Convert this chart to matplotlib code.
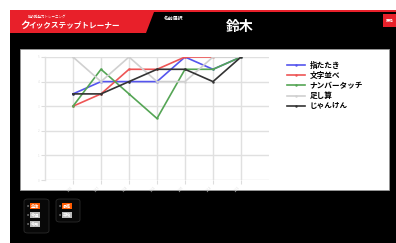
import matplotlib.pyplot as plt
from matplotlib.patches import Rectangle, Polygon, FancyBboxPatch

plt.rcParams['font.family'] = ['Noto Sans CJK JP', 'DejaVu Sans']

W, H = 396, 243

# datos
sesiones = ['1/10', '1/17', '1/24', '1/31', '2/07', '2/14', '2/21']
juegos = ['指たたき', '文字並べ', 'ナンバータッチ', '足し算', 'じゃんけん']
colores = ['#5555ee', '#ee5555', '#55a555', '#d0d0d0', '#333333']
yubi = [3.5, 4, 4, 4, 5, 4.5, 5]
moji = [3, 3.5, 4.5, 4.5, 5, 5, None]
number = [3, 4.5, 3.5, 2.5, 4.5, 4.5, 5]
tashizan = [5, 4, 5, 4, 4, 5, 5]
janken = [3.5, 3.5, 4, 4.5, 4.5, 4, 5]
series = [yubi, moji, number, tashizan, janken]


def fx(x):
    return x / W


def fy(y):
    return 1 - y / H


def rect(fig, x0, y0, x1, y1, color, **kw):
    fig.patches.append(Rectangle((fx(x0), fy(y1)), fx(x1) - fx(x0), fy(y0) - fy(y1),
                                 transform=fig.transFigure, facecolor=color,
                                 edgecolor=kw.pop('ec', 'none'), zorder=-2, **kw))


fig = plt.figure(figsize=(W / 100, H / 100), dpi=100)
fig.patch.set_facecolor('white')

# fondo de la pantalla
rect(fig, 10, 10, W, H, 'black')
rect(fig, 10, 10, W, 12, '#e8202a')
fig.patches.append(Polygon([(fx(10), fy(12)), (fx(154), fy(12)), (fx(146), fy(33)), (fx(10), fy(33))],
                           closed=True, transform=fig.transFigure, facecolor='#e8202a',
                           edgecolor='none', zorder=-1))
fig.text(fx(28), fy(17), '脳の瞬発力トレーニング', color='white', fontsize=2.5, va='center')
fig.text(fx(20), fy(25), 'ク', color='white', fontsize=7, fontweight='bold', va='center')
fig.text(fx(29), fy(25), 'イックステップトレーナー', color='white', fontsize=5.5,
         fontweight='bold', va='center', style='italic')
fig.text(fx(164), fy(18), '名前選択', color='white', fontsize=3.5, fontweight='bold', va='center')
fig.text(fx(240), fy(27), '鈴木', color='white', fontsize=10, fontweight='bold', va='center', ha='center')
rect(fig, 383, 14, W, 27, '#e8202a')
fig.text(fx(386), fy(20.5), '戻る', color='white', fontsize=3, fontweight='bold', va='center')

# panel blanco
rect(fig, 20, 49, 389, 190, 'white', ec='#999999', lw=0.6)

# botones de abajo
for (x0, y0, x1, y1) in [(24, 199, 49, 233), (56, 199, 80, 222)]:
    fig.patches.append(FancyBboxPatch((fx(x0), fy(y1)), fx(x1) - fx(x0), fy(y0) - fy(y1),
                                      boxstyle='round,pad=0,rounding_size=0.01',
                                      transform=fig.transFigure, facecolor='#080808',
                                      edgecolor='#2a2a2a', lw=0.6, zorder=-1))
botones = [(31, 206, '全体', '#ff5a00'), (31, 215, '今週', '#bbbbbb'), (31, 224, '今月', '#bbbbbb'),
           (63, 206, '最高', '#ff5a00'), (63, 215, '平均', '#bbbbbb')]
for x, y, t, c in botones:
    fig.text(fx(x - 4), fy(y), '●', color='#777777', fontsize=1.5, va='center')
    fig.text(fx(x), fy(y), t, color='white', fontsize=3, fontweight='bold', va='center',
             bbox=dict(facecolor=c, edgecolor='none', pad=0.6))

# grafico
ax = fig.add_axes([fx(45), fy(180), fx(269) - fx(45), fy(57) - fy(180)])
ax.set_zorder(2)
ax.patch.set_alpha(0)
x = list(range(len(sesiones)))
for vals, nombre, c in zip(series, juegos, colores):
    xs = [i for i, v in zip(x, vals) if v is not None]
    ys = [v for v in vals if v is not None]
    ax.plot(xs, ys, color=c, lw=1.2, marker='.', markersize=1.5, label=nombre)

ax.set_xlim(-1, 7)
ax.set_ylim(0, 5)
ax.set_xticks(x)
ax.set_xticklabels(sesiones, rotation=45, ha='right', fontsize=2.2, color='#aaaaaa')
ax.set_yticks(range(6))
ax.set_yticklabels([str(v) for v in range(6)], fontsize=2.2, color='#aaaaaa')
ax.tick_params(colors='#dddddd', length=3, width=0.8, pad=1)
ax.grid(color='#e0e0e0', lw=1.0)
ax.set_axisbelow(True)
for s in ['top', 'right', 'bottom']:
    ax.spines[s].set_visible(False)
ax.spines['left'].set_color('#e0e0e0')
ax.spines['left'].set_linewidth(1.0)

leg = fig.legend(loc='upper left', bbox_to_anchor=(fx(283), fy(57)), frameon=False,
                 prop={'size': 5.5, 'weight': 'bold'}, handlelength=2.4, labelspacing=0.15,
                 handletextpad=0.6, borderpad=0)
leg.set_zorder(3)

plt.savefig('out.png', dpi=100)
